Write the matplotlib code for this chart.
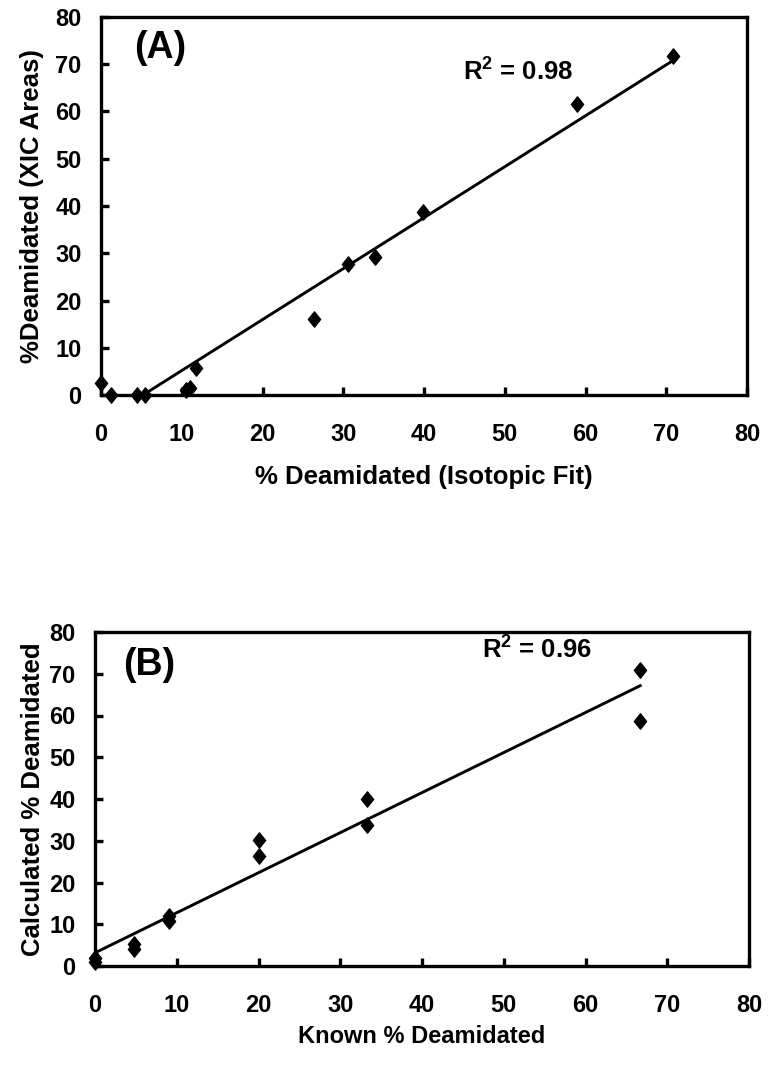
import numpy as np
import matplotlib
matplotlib.use("Agg")
import matplotlib.pyplot as plt
from matplotlib.path import Path

plt.rcParams['font.family'] = ['Liberation Sans', 'DejaVu Sans']
plt.rcParams['font.weight'] = 'bold'
plt.rcParams['mathtext.fontset'] = 'custom'
plt.rcParams['mathtext.bf'] = 'Liberation Sans:bold'

# Panel A data: isotopic fit vs XIC areas
a_x = [0.0, 1.3, 4.4, 5.5, 10.5, 11.0, 11.8, 26.4, 30.6, 33.9, 39.9, 59.0, 70.8]
a_y = [2.5, 0.0, 0.1, 0.0, 1.0, 1.5, 5.8, 16.1, 27.8, 29.3, 38.7, 61.5, 71.8]
a_r2 = "0.98"

# Panel B data: known vs calculated
b_x = [0.0, 0.0, 4.8, 4.8, 9.1, 9.1, 20.0, 20.0, 33.3, 33.3, 66.7, 66.7]
b_y = [2.0, 1.0, 5.3, 4.1, 11.9, 10.7, 30.2, 26.3, 39.9, 33.8, 70.9, 58.7]
b_r2 = "0.96"

ticks = [0, 10, 20, 30, 40, 50, 60, 70, 80]

diamond = Path([(0, 1), (0.8, 0), (0, -1), (-0.8, 0), (0, 1)],
               [Path.MOVETO, Path.LINETO, Path.LINETO, Path.LINETO, Path.CLOSEPOLY])

fig = plt.figure(figsize=(7.71, 10.67), dpi=100)
W, H = 771, 1067

def make_ax(left, right, top, bottom):
    return fig.add_axes([left / W, 1 - bottom / H, (right - left) / W, (bottom - top) / H])

axA = make_ax(101, 747, 17, 395)
axB = make_ax(95, 749, 632, 966)

def style(ax, xs, ys, letter, r2, r2pos, xlabel, ylabel, letterpos, xlabelpad,
          xlabelsize, ylabelpad):
    ax.set_xlim(0, 80)
    ax.set_ylim(0, 80)
    ax.set_xticks(ticks)
    ax.set_yticks(ticks)
    for s in ax.spines.values():
        s.set_linewidth(2.4)
    ax.tick_params(direction='in', length=6, width=2.4, labelsize=17)
    ax.tick_params(axis='x', pad=20)
    ax.tick_params(axis='y', pad=14)
    for lab in ax.get_xticklabels() + ax.get_yticklabels():
        lab.set_fontweight('bold')
    ax.plot(xs, ys, linestyle='none', marker=diamond, markersize=11,
            color='black', clip_on=False, zorder=3)
    k, b = np.polyfit(xs, ys, 1)
    xx = np.array([min(xs), max(xs)])
    ax.plot(xx, k * xx + b, color='black', linewidth=2.1, zorder=2)
    ax.text(letterpos[0], letterpos[1], letter, fontsize=27, fontweight='bold',
            ha='left', va='center')
    ax.text(r2pos[0], r2pos[1], "R$^{\\mathbf{2}}$ = " + r2, fontsize=18.5,
            fontweight='bold', ha='left', va='center')
    ax.set_xlabel(xlabel, fontsize=xlabelsize, fontweight='bold', labelpad=xlabelpad)
    ax.set_ylabel(ylabel, fontsize=18.5, fontweight='bold', labelpad=ylabelpad)

style(axA, a_x, a_y, "(A)", a_r2, (44.8, 68.6), "% Deamidated (Isotopic Fit)",
      "%Deamidated (XIC Areas)", (4.1, 73.4), 14, 18.5, 8)
style(axB, b_x, b_y, "(B)", b_r2, (47.3, 76.0), "Known % Deamidated",
      "Calculated % Deamidated", (3.4, 72.1), 6, 17, 3)

fig.savefig("out.png", dpi=100)
